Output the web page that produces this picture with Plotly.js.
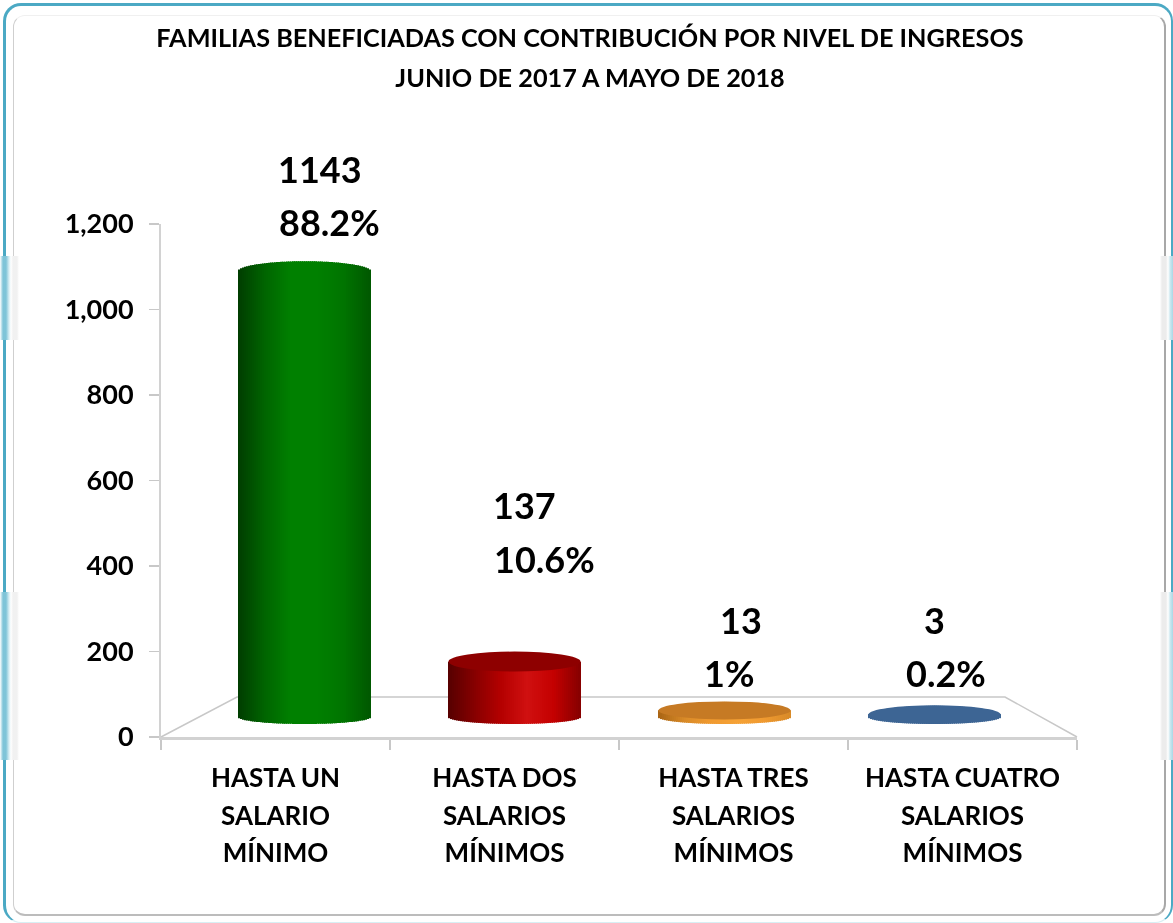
<!DOCTYPE html>
<html><head><meta charset="utf-8">
<script src="https://cdn.plot.ly/plotly-3.0.1.min.js"></script>
<style>
html,body{margin:0;padding:0;background:#fff;width:1173px;height:923px;overflow:hidden}
#outer{position:absolute;left:3px;top:3px;width:1170px;height:920px;box-sizing:border-box;border:3px solid #4ba9c4;border-right-width:2px;border-bottom:1px solid #d8eff4;border-radius:18px}
#inner{position:absolute;left:13px;top:15px;width:1153px;height:901px;box-sizing:border-box;border:1px solid #cfcfcf;border-right:2px solid #a8a8a8;border-bottom:2px solid #bcbcbc;border-top-color:#f0f0f0;border-radius:12px}
.pl{position:absolute;left:0;width:19px;background:linear-gradient(to right,#fff 0,#7fc4d8 3px,#7fc4d8 6px,#d6edf3 9px,#fff 11px,#f1f1f1 13px,#f1f1f1 17px,#fff 19px)}
.pr{position:absolute;left:1160px;width:13px;background:linear-gradient(to right,#fff 0,#ececec 2px,#ececec 6px,#fff 8px,#cfe9f0 10px,#a8d8e6 13px)}
#chart{position:absolute;left:0;top:0;width:1173px;height:923px;filter:blur(0.45px)}
</style></head><body>
<div id="outer"></div><div id="inner"></div>
<div class="pl" style="top:256px;height:84px"></div><div class="pl" style="top:592px;height:168px"></div>
<div class="pr" style="top:256px;height:84px"></div><div class="pr" style="top:592px;height:168px"></div>
<div id="chart"></div>
<script>
const titleLines = ['FAMILIAS BENEFICIADAS CON CONTRIBUCIÓN POR NIVEL DE INGRESOS','JUNIO DE 2017 A MAYO DE 2018'];
const categories = ['HASTA UN|SALARIO|MÍNIMO','HASTA DOS|SALARIOS|MÍNIMOS','HASTA TRES|SALARIOS|MÍNIMOS','HASTA CUATRO|SALARIOS|MÍNIMOS'];
const values = [1143,137,13,3];
const percents = ['88.2%','10.6%','1%','0.2%'];
const yTicks = [0,200,400,600,800,1000,1200];

const valueLabelX = [320,524,741,934], valueLabelY = [169,505,620,620];
const pctLabelX = [329,544,729,946], pctLabelY = [222,559,673,673];
const sideStops = [
  ['#003c00','#006400','#008000','#008000','#007400','#005800'],
  ['#560000','#860000','#b40000','#d01010','#c40000','#860000'],
  ['#a86414','#d88a28','#f09a30','#f5a236','#f09a30','#d88a28'],
  ['#3d6594','#3d6594','#3d6594','#3d6594','#3d6594','#3d6594']
];
const capColor = [null,'#8e0000','#c67a24','#3d6594'];

// geometry of the floor projection, in pixels
const W=1173,H=923,L=161,R=1077,T=224,B=737;
const base0=717, pxPerUnit=0.39, span=210, first=304.5, halfW=66, nStrips=66;
const x2range=[(L-first)/span,(R-first)/span];
const y2range=[-(B-base0)/pxPerUnit,(base0-T)/pxPerUnit];
const px=x=>(x-L)/(R-L), py=y=>(B-y)/(B-T);

function hex(c){return [1,3,5].map(i=>parseInt(c.substr(i,2),16));}
function mix(stops,t){
  const f=(t+1)/2*(stops.length-1), i=Math.min(Math.floor(f),stops.length-2), u=f-i;
  const a=hex(stops[i]),b=hex(stops[i+1]);
  return 'rgb('+a.map((v,k)=>Math.round(v+(b[k]-v)*u)).join(',')+')';
}
const sx=[],sy=[],sb=[],sc=[];
const ryTop=10/pxPerUnit, ryBot=7/pxPerUnit;
values.forEach((v,i)=>{
  for(let s=0;s<nStrips;s++){
    const t=-1+2*(s+0.5)/nStrips, arc=Math.sqrt(1-t*t);
    const b=-ryBot*arc, top=v+ryTop*arc;
    sx.push(i+t*halfW/span); sb.push(b); sy.push(top-b); sc.push(mix(sideStops[i],t));
  }
});
const tickLabel=c=>c.split('|').map(l=>'<span style="font-size:26px">'+l+'</span>').join('<br>');
const font='Lato, Carlito, sans-serif';
const traces=[
 {type:'bar',x:categories.map(tickLabel),y:values,xaxis:'x',yaxis:'y',marker:{opacity:0},hoverinfo:'skip',showlegend:false},
 {type:'bar',x:sx,y:sy,base:sb,width:sx.map(()=>1.5*2*halfW/span/nStrips),xaxis:'x2',yaxis:'y2',
  marker:{color:sc,line:{width:0}},hoverinfo:'skip',showlegend:false}
];
const line={color:'#d2d2d2',width:2};
const shapes=[
 {type:'path',xref:'paper',yref:'paper',layer:'below',line:{color:'#c8c8c8',width:1.5},
  path:`M${px(L)},${py(B)} L${px(237)},${py(697)} L${px(1005)},${py(697)} L${px(R)},${py(B)}`}
];
values.forEach((v,i)=>{
  if(!capColor[i])return;
  const ry=(i===1?10:9)/pxPerUnit, lift=(i===1?2:1.5)/pxPerUnit;
  shapes.push({type:'circle',xref:'x2',yref:'y2',layer:'above',fillcolor:capColor[i],line:{width:0},
    x0:i-halfW/span,x1:i+halfW/span,y0:v+lift-ry,y1:v+lift+ry});
});
const ann=[];
values.forEach((v,i)=>{
  ann.push({xref:'paper',yref:'paper',x:px(valueLabelX[i]),y:py(valueLabelY[i]),text:String(v),showarrow:false,xanchor:'center',yanchor:'middle',font:{family:font,size:36,color:'#000',weight:700}});
  ann.push({xref:'paper',yref:'paper',x:px(pctLabelX[i]),y:py(pctLabelY[i]),text:percents[i],showarrow:false,xanchor:'center',yanchor:'middle',font:{family:font,size:36,color:'#000',weight:700}});
});
const layout={
 width:W,height:H,margin:{l:L,r:W-R,t:T,b:H-B,pad:0},
 paper_bgcolor:'rgba(0,0,0,0)',plot_bgcolor:'rgba(0,0,0,0)',barmode:'overlay',showlegend:false,
 font:{family:font,color:'#000'},
 title:{text:titleLines.map(l=>'<span style="font-size:25.25px">'+l+'</span>').join('<br>'),
   font:{family:font,size:30.8,color:'#000',weight:700},xref:'container',yref:'container',x:0.503,xanchor:'center',y:0.949,yanchor:'top'},
 xaxis:{type:'category',tickson:'boundaries',ticks:'outside',ticklen:10,tickcolor:'#c8c8c8',tickwidth:1.5,
   showline:true,linecolor:line.color,linewidth:3,showgrid:false,zeroline:false,ticklabelstandoff:12,
   tickfont:{family:font,size:29,color:'#000',weight:700},tickangle:0,automargin:false},
 yaxis:{range:[0,1200],tickvals:yTicks,tickformat:',',ticks:'outside',ticklen:10,tickcolor:'#c8c8c8',tickwidth:1.5,
   showline:true,linecolor:line.color,linewidth:2,showgrid:false,zeroline:false,ticklabelstandoff:10,
   tickfont:{family:font,size:27,color:'#000',weight:700},automargin:false},
 xaxis2:{overlaying:'x',range:x2range,visible:false,fixedrange:true},
 yaxis2:{overlaying:'y',range:y2range,visible:false,fixedrange:true},
 shapes:shapes,annotations:ann
};
Plotly.newPlot('chart',traces,layout,{displayModeBar:false,staticPlot:true});
</script>
</body></html>
